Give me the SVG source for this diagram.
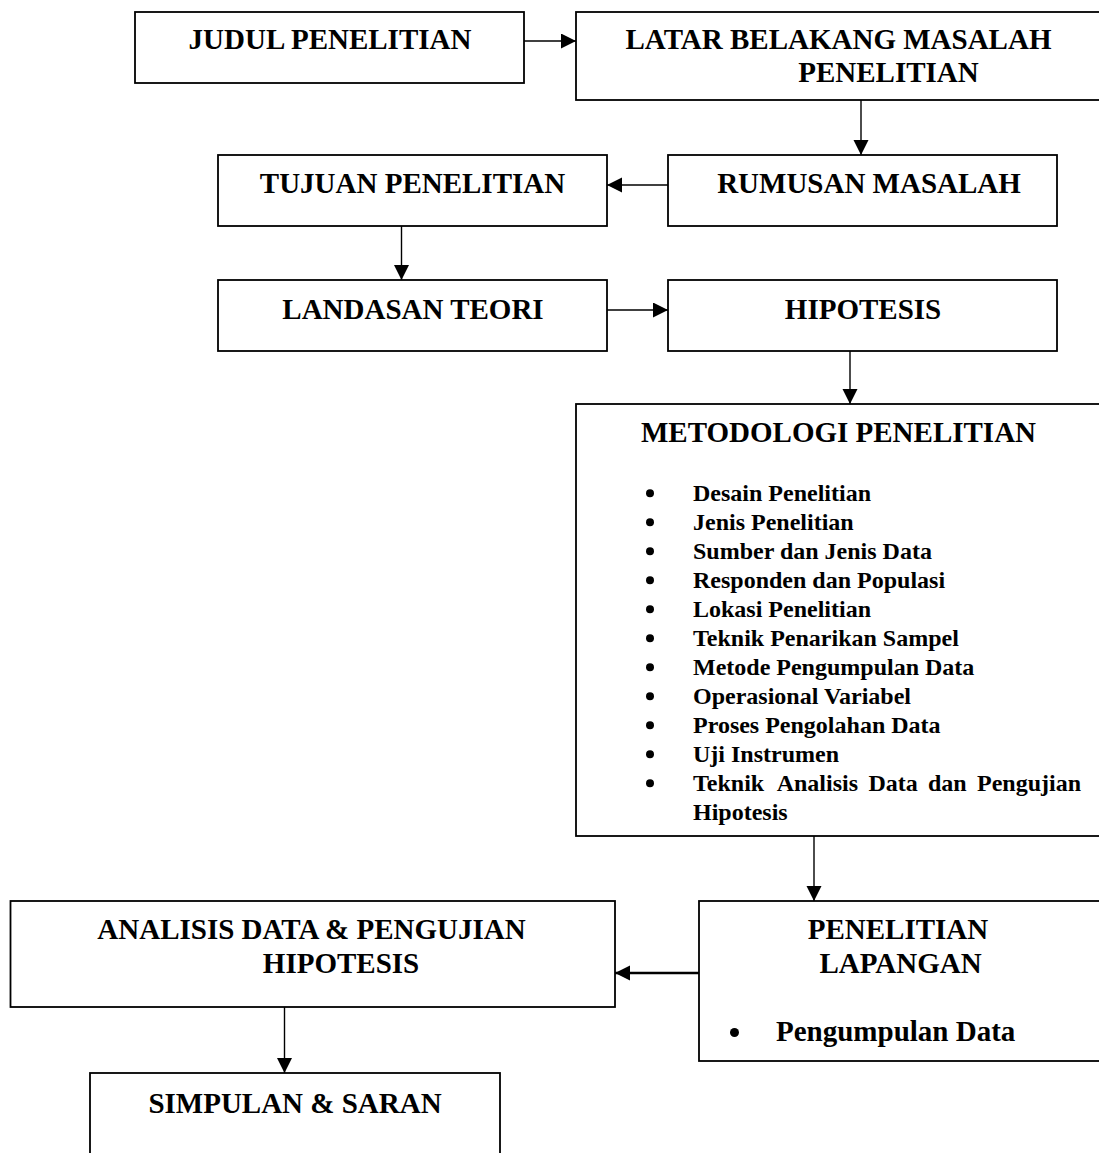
<svg xmlns="http://www.w3.org/2000/svg" width="1099" height="1153" viewBox="0 0 1099 1153">
<style>
.box{fill:#fff;stroke:#000;stroke-width:1.8}
.t{font-family:"Liberation Serif","Times New Roman",serif;font-weight:bold;font-size:29px;fill:#000}
.c{text-anchor:middle}
.i{font-family:"Liberation Serif","Times New Roman",serif;font-weight:bold;font-size:24px;fill:#000}
.ln{stroke:#000;stroke-width:1.4;fill:none;marker-end:url(#ah)}
.bul{fill:#000}
</style>
<defs>
<marker id="ah" markerUnits="userSpaceOnUse" markerWidth="16" markerHeight="16" refX="15" refY="7.5" orient="auto">
<path d="M0,0 L15,7.5 L0,15 z" fill="#000"/>
</marker>
</defs>
<rect width="1099" height="1153" fill="#fff"/>
<g id="connectors">
<line class="ln" x1="524" y1="41" x2="576" y2="41"/>
<line class="ln" x1="861" y1="100" x2="861" y2="155"/>
<line class="ln" x1="668" y1="185" x2="607" y2="185"/>
<line class="ln" x1="401.5" y1="226" x2="401.5" y2="280"/>
<line class="ln" x1="607" y1="310" x2="668" y2="310"/>
<line class="ln" x1="850" y1="351" x2="850" y2="404"/>
<line class="ln" x1="814" y1="836" x2="814" y2="901"/>
<line class="ln" x1="699" y1="973" x2="615" y2="973" style="stroke-width:2.6"/>
<line class="ln" x1="284.5" y1="1007" x2="284.5" y2="1073"/>
</g>
<g id="judul">
<rect class="box" x="135" y="12" width="389" height="71"/>
<text class="t c" x="330" y="49">JUDUL PENELITIAN</text>
</g>
<g id="latar">
<rect class="box" x="576" y="12" width="540" height="88"/>
<text class="t c" x="838.5" y="49">LATAR BELAKANG MASALAH</text>
<text class="t c" x="888.5" y="82">PENELITIAN</text>
</g>
<g id="rumusan">
<rect class="box" x="668" y="155" width="389" height="71"/>
<text class="t c" x="869" y="193">RUMUSAN MASALAH</text>
</g>
<g id="tujuan">
<rect class="box" x="218" y="155" width="389" height="71"/>
<text class="t c" x="412.5" y="193">TUJUAN PENELITIAN</text>
</g>
<g id="landasan">
<rect class="box" x="218" y="280" width="389" height="71"/>
<text class="t c" x="413" y="319">LANDASAN TEORI</text>
</g>
<g id="hipotesis">
<rect class="box" x="668" y="280" width="389" height="71"/>
<text class="t c" x="863" y="319">HIPOTESIS</text>
</g>
<g id="metodologi">
<rect class="box" x="576" y="404" width="540" height="432"/>
<text class="t c" x="838.5" y="442">METODOLOGI PENELITIAN</text>
<circle class="bul" cx="650" cy="493.3" r="4"/>
<circle class="bul" cx="650" cy="522.3" r="4"/>
<circle class="bul" cx="650" cy="551.3" r="4"/>
<circle class="bul" cx="650" cy="580.3" r="4"/>
<circle class="bul" cx="650" cy="609.3" r="4"/>
<circle class="bul" cx="650" cy="638.3" r="4"/>
<circle class="bul" cx="650" cy="667.3" r="4"/>
<circle class="bul" cx="650" cy="696.3" r="4"/>
<circle class="bul" cx="650" cy="725.3" r="4"/>
<circle class="bul" cx="650" cy="754.3" r="4"/>
<circle class="bul" cx="650" cy="783.3" r="4"/>
<text class="i" x="693" y="501">Desain Penelitian</text>
<text class="i" x="693" y="530">Jenis Penelitian</text>
<text class="i" x="693" y="559">Sumber dan Jenis Data</text>
<text class="i" x="693" y="588">Responden dan Populasi</text>
<text class="i" x="693" y="617">Lokasi Penelitian</text>
<text class="i" x="693" y="646">Teknik Penarikan Sampel</text>
<text class="i" x="693" y="675">Metode Pengumpulan Data</text>
<text class="i" x="693" y="704">Operasional Variabel</text>
<text class="i" x="693" y="733">Proses Pengolahan Data</text>
<text class="i" x="693" y="762">Uji Instrumen</text>
<text class="i" y="791"><tspan x="693">Teknik</tspan> <tspan x="776.7">Analisis</tspan> <tspan x="868.4">Data</tspan> <tspan x="928">dan</tspan> <tspan x="977">Pengujian</tspan></text>
<text class="i" x="693" y="820">Hipotesis</text>
</g>
<g id="lapangan">
<rect class="box" x="699" y="901" width="420" height="160"/>
<text class="t c" x="898" y="939">PENELITIAN</text>
<text class="t c" x="900.5" y="973">LAPANGAN</text>
<circle class="bul" cx="734.5" cy="1032.5" r="4.5"/>
<text class="t" x="776" y="1041">Pengumpulan Data</text>
</g>
<g id="analisis">
<rect class="box" x="10.5" y="901" width="604.5" height="106"/>
<text class="t c" x="311.5" y="939">ANALISIS DATA &amp; PENGUJIAN</text>
<text class="t c" x="341" y="973">HIPOTESIS</text>
</g>
<g id="simpulan">
<rect class="box" x="90" y="1073" width="410" height="120"/>
<text class="t c" x="295" y="1113">SIMPULAN &amp; SARAN</text>
</g>
</svg>
